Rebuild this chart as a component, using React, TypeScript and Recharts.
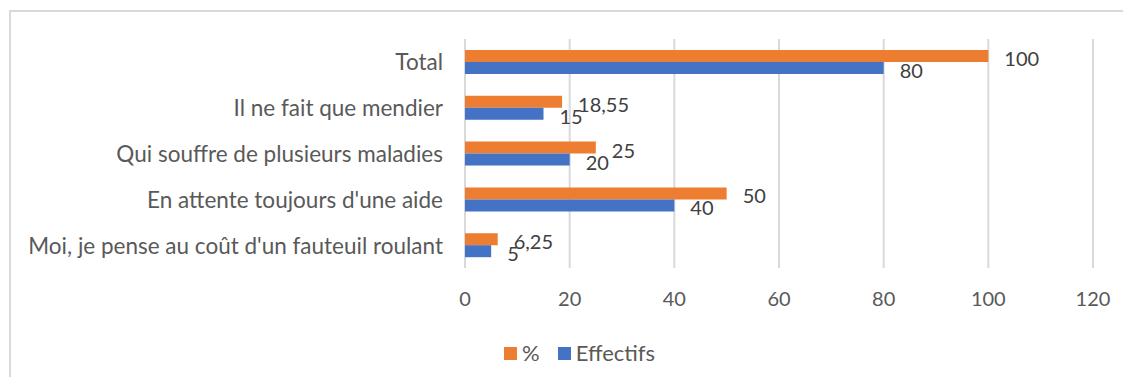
import React from "react";
import { BarChart, Bar, XAxis, YAxis, CartesianGrid, LabelList } from "recharts";

const categories = [
  "Total",
  "Il ne fait que mendier",
  "Qui souffre de plusieurs maladies",
  "En attente toujours d'une aide",
  "Moi, je pense au coût d'un fauteuil roulant",
];
const pctValues = [100, 18.55, 25, 50, 6.25];
const effectifsValues = [80, 15, 20, 40, 5];
const xTicks = [0, 20, 40, 60, 80, 100, 120];
const seriesNames = ["%", "Effectifs"];
const seriesColors = ["#ED7D31", "#4472C4"];

const data = categories.map((c, i) => ({
  name: c,
  pct: pctValues[i],
  eff: effectifsValues[i],
}));

const FONT = "Lato, 'Open Sans', sans-serif";
const FS_TEXT = 22.5;
const FS_NUM = 20;

const fmt = (v: any) => String(v).replace(".", ",");

const makeLabel = (props: any) => {
  const vb = props.viewBox || props;
  const x = vb.x + vb.width + 16;
  const y = vb.y + vb.height / 2 + 2;
  return (
    <text
      x={x}
      y={y}
      dominantBaseline="central"
      textAnchor="start"
      fill="#404040"
      fontSize={FS_NUM}
      fontFamily={FONT}
    >
      {fmt(props.value)}
    </text>
  );
};

const YTick = (props: any) => {
  const { x, y, payload } = props;
  return (
    <text
      x={x - 14}
      y={y}
      textAnchor="end"
      dominantBaseline="central"
      fill="#595959"
      fontSize={FS_TEXT}
      fontFamily={FONT}
    >
      {payload.value}
    </text>
  );
};

const XTick = (props: any) => {
  const { x, y, payload } = props;
  return (
    <text
      x={x}
      y={y + 30}
      textAnchor="middle"
      dominantBaseline="central"
      fill="#595959"
      fontSize={FS_NUM}
      fontFamily={FONT}
    >
      {payload.value}
    </text>
  );
};

export default function App() {
  return (
    <div
      style={{
        position: "relative",
        width: 1115,
        height: 369,
        overflow: "hidden",
        background: "#fff",
      }}
    >
      <div
        style={{
          position: "absolute",
          left: 1,
          top: 2,
          width: 1300,
          height: 600,
          borderTop: "2px solid #d9d9d9",
          borderLeft: "2px solid #d9d9d9",
          boxSizing: "border-box",
        }}
      />
      <div style={{ position: "absolute", left: 0, top: 0 }}>
        <BarChart
          width={1115}
          height={369}
          data={data}
          layout="vertical"
          margin={{ top: 31, right: 30, bottom: 69, left: 0 }}
          barGap={0}
          barSize={12}
        >
          <CartesianGrid horizontal={false} stroke="#d9d9d9" strokeWidth={2} />
          <XAxis
            type="number"
            domain={[0, 120]}
            ticks={xTicks}
            axisLine={false}
            tickLine={false}
            tickSize={0}
            tickMargin={0}
            height={40}
            tick={<XTick />}
            interval={0}
          />
          <YAxis
            type="category"
            dataKey="name"
            width={457}
            axisLine={false}
            tickLine={false}
            tickSize={0}
            tickMargin={8}
            tick={<YTick />}
            interval={0}
          />
          <Bar dataKey="pct" name={seriesNames[0]} fill={seriesColors[0]} isAnimationActive={false}>
            <LabelList dataKey="pct" content={makeLabel} />
          </Bar>
          <Bar dataKey="eff" name={seriesNames[1]} fill={seriesColors[1]} isAnimationActive={false}>
            <LabelList dataKey="eff" content={makeLabel} />
          </Bar>
        </BarChart>
      </div>
      <div
        style={{
          position: "absolute",
          left: 496,
          top: 333,
          display: "flex",
          alignItems: "center",
          fontFamily: FONT,
          fontSize: 22,
          color: "#595959",
          lineHeight: "24px",
        }}
      >
        {seriesNames.map((n, i) => (
          <div
            key={n}
            style={{ display: "flex", alignItems: "center", marginRight: i === 0 ? 18 : 0 }}
          >
            <span
              style={{
                display: "inline-block",
                width: 13,
                height: 13,
                background: seriesColors[i],
                marginRight: 5,
              }}
            />
            <span>{n}</span>
          </div>
        ))}
      </div>
    </div>
  );
}
